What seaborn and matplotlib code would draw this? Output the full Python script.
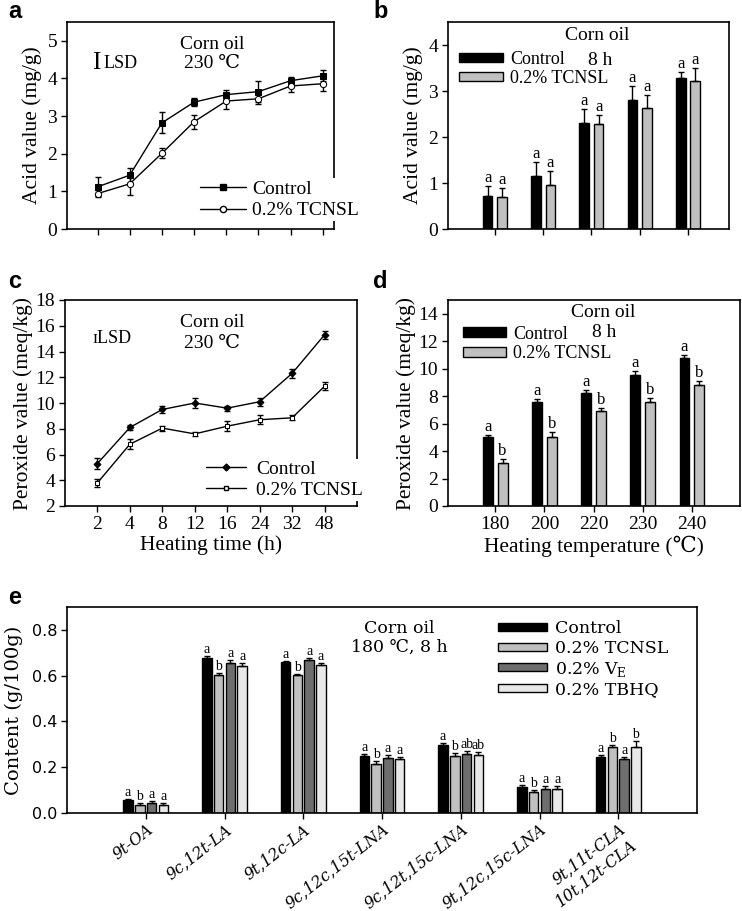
import numpy as np
import pandas as pd
import matplotlib
matplotlib.use("Agg")
import matplotlib.pyplot as plt
import seaborn as sns
from matplotlib.lines import Line2D
from matplotlib.patches import Patch

# ---------------- data ----------------
groups2 = ["Control", "0.2% TCNSL"]
times = ["2", "4", "8", "12", "16", "24", "32", "48"]

a_ctrl = [1.12, 1.43, 2.82, 3.37, 3.57, 3.65, 3.94, 4.07]
a_ctrl_err = [0.25, 0.2, 0.28, 0.1, 0.12, 0.28, 0.1, 0.15]
a_tcnsl = [0.94, 1.2, 2.01, 2.85, 3.4, 3.46, 3.8, 3.86]
a_tcnsl_err = [0.1, 0.3, 0.13, 0.18, 0.2, 0.15, 0.15, 0.2]

b_temps = ["180", "200", "220", "230", "240"]
b_ctrl = [0.72, 1.16, 2.31, 2.81, 3.28]
b_ctrl_err = [0.22, 0.3, 0.3, 0.29, 0.14]
b_tcnsl = [0.69, 0.95, 2.28, 2.64, 3.22]
b_tcnsl_err = [0.21, 0.31, 0.2, 0.27, 0.27]
b_letters_ctrl = ["a"] * 5
b_letters_tcnsl = ["a"] * 5

c_ctrl = [5.3, 8.1, 9.5, 10.0, 9.6, 10.1, 12.3, 15.3]
c_ctrl_err = [0.4, 0.2, 0.3, 0.4, 0.2, 0.3, 0.35, 0.3]
c_tcnsl = [3.8, 6.8, 8.05, 7.6, 8.2, 8.7, 8.85, 11.3]
c_tcnsl_err = [0.3, 0.4, 0.2, 0.15, 0.4, 0.35, 0.2, 0.3]

d_temps = ["180", "200", "220", "230", "240"]
d_ctrl = [5.0, 7.6, 8.2, 9.55, 10.75]
d_ctrl_err = [0.15, 0.2, 0.25, 0.25, 0.25]
d_tcnsl = [3.1, 5.0, 6.9, 7.6, 8.8]
d_tcnsl_err = [0.3, 0.4, 0.25, 0.25, 0.3]
d_letters_ctrl = ["a"] * 5
d_letters_tcnsl = ["b"] * 5

e_cats = ["9t-OA", "9c,12t-LA", "9t,12c-LA", "9c,12c,15t-LNA",
          "9c,12t,15c-LNA", "9t,12c,15c-LNA", "9t,11t-CLA\n10t,12t-CLA"]
e_groups = ["Control", "0.2% TCNSL", "0.2% VE", "0.2% TBHQ"]
e_legend_labels = ["Control", "0.2% TCNSL", "0.2% V$_\\mathregular{E}$", "0.2% TBHQ"]
e_ctrl = [0.055, 0.678, 0.66, 0.248, 0.298, 0.113, 0.245]
e_tcnsl = [0.034, 0.601, 0.603, 0.212, 0.248, 0.091, 0.288]
e_ve = [0.044, 0.656, 0.668, 0.240, 0.259, 0.106, 0.236]
e_tbhq = [0.036, 0.641, 0.646, 0.236, 0.254, 0.106, 0.290]
e_ctrl_err = [0.006, 0.006, 0.006, 0.01, 0.006, 0.008, 0.008]
e_tcnsl_err = [0.008, 0.012, 0.006, 0.016, 0.016, 0.01, 0.01]
e_ve_err = [0.01, 0.014, 0.01, 0.014, 0.014, 0.012, 0.008]
e_tbhq_err = [0.008, 0.014, 0.01, 0.01, 0.014, 0.012, 0.025]
e_letters = [
    ["a", "a", "a", "a", "a", "a", "a"],
    ["b", "b", "b", "b", "b", "b", "b"],
    ["a", "a", "a", "a", "ab", "a", "a"],
    ["a", "a", "a", "a", "ab", "a", "b"],
]

# ---------------- style ----------------
sns.set_theme(style="ticks")
SERIF = ["Liberation Serif", "DejaVu Serif", "DejaVu Sans"]
plt.rcParams["font.family"] = SERIF
plt.rcParams["mathtext.fontset"] = "custom"
plt.rcParams["mathtext.rm"] = "DejaVu Serif"
plt.rcParams["axes.edgecolor"] = "black"
plt.rcParams["axes.linewidth"] = 1.2
plt.rcParams["xtick.color"] = "black"
plt.rcParams["ytick.color"] = "black"
plt.rcParams["text.color"] = "black"
plt.rcParams["axes.labelcolor"] = "black"

W, H = 742, 911
fig = plt.figure(figsize=(W / 100, H / 100), dpi=100)

TICK_FS = 14
LABEL_FS = 15.5
ANN_FS = 14


def add_ax(l, r, t, b):
    return fig.add_axes([l / W, 1 - b / H, (r - l) / W, (b - t) / H])


def frame(ax, fs=TICK_FS):
    for s in ax.spines.values():
        s.set_visible(True)
        s.set_color("black")
        s.set_linewidth(1.2)
    ax.tick_params(direction="out", length=4, width=1, labelsize=fs,
                   top=False, right=False, pad=3)
    ax.set_facecolor("white")


def line_panel(ax, ctrl, ctrl_err, tc, tc_err, mk_ctrl, mk_tc, ms):
    df = pd.DataFrame({
        "time": times * 2,
        "value": ctrl + tc,
        "group": [groups2[0]] * len(times) + [groups2[1]] * len(times),
    })
    sns.pointplot(data=df, x="time", y="value", hue="group", order=times,
                  hue_order=groups2, palette=["black", "black"],
                  markers=[mk_ctrl, mk_tc], linestyles=["-", "-"],
                  errorbar=None, legend=False, ax=ax,
                  markersize=ms, linewidth=1.0)
    lines = [l for l in ax.lines]
    lines[1].set_markerfacecolor("white")
    lines[1].set_markeredgecolor("black")
    lines[0].set_zorder(3)
    lines[1].set_zorder(3)
    for ln, err in zip(lines[:2], [ctrl_err, tc_err]):
        ax.errorbar(ln.get_xdata(), ln.get_ydata(), yerr=err, fmt="none",
                    ecolor="black", elinewidth=1, capsize=2.5, capthick=1,
                    zorder=2)
    return lines


def bar_panel(ax, cats, ctrl, ctrl_err, tc, tc_err, let_c, let_t):
    df = pd.DataFrame({
        "cat": cats * 2,
        "value": ctrl + tc,
        "group": [groups2[0]] * len(cats) + [groups2[1]] * len(cats),
    })
    sns.barplot(data=df, x="cat", y="value", hue="group", order=cats,
                hue_order=groups2, palette=["black", "#c0c0c0"],
                edgecolor="black", linewidth=1.0, errorbar=None,
                width=0.6, gap=0.33, legend=False, ax=ax, saturation=1)
    for cont, errs, lets in zip(ax.containers, [ctrl_err, tc_err], [let_c, let_t]):
        xs = [p.get_x() + p.get_width() / 2 for p in cont]
        hs = [p.get_height() for p in cont]
        ax.errorbar(xs, hs, yerr=[[0] * len(errs), errs], fmt="none",
                    ecolor="black", elinewidth=1, capsize=2.5, capthick=1)
        for x, h, e, l in zip(xs, hs, errs, lets):
            ax.text(x, h + e, l, ha="center", va="bottom", fontsize=12)


# ---------------- panel a ----------------
ax = add_ax(67, 334, 22, 229)
frame(ax)
line_panel(ax, a_ctrl, a_ctrl_err, a_tcnsl, a_tcnsl_err, "s", "o", 4.5)
ax.set_ylim(0, 5.5)
ax.set_yticks([0, 1, 2, 3, 4, 5])
ax.set_xlim(-0.95, 7.35)
ax.tick_params(labelbottom=False)
ax.set_xlabel("")
ax.set_ylabel("Acid value (mg/g)", fontsize=LABEL_FS, labelpad=4)
ax.text(0.543, 0.89, "Corn oil", transform=ax.transAxes, ha="center", va="center", fontsize=ANN_FS)
ax.text(0.543, 0.80, "230 ℃", transform=ax.transAxes, ha="center", va="center", fontsize=ANN_FS)
ax.text(0.11, 0.80, "I", transform=ax.transAxes, ha="center", va="center", fontsize=18)
ax.text(0.135, 0.80, "LSD", transform=ax.transAxes, ha="left", va="center", fontsize=13)
h_a = [Line2D([], [], color="black", marker="s", markersize=4.5, lw=1),
       Line2D([], [], color="black", marker="o", markersize=4.5, lw=1,
              markerfacecolor="white")]
leg = ax.legend(h_a, groups2, loc="upper left", bbox_to_anchor=(0.49, 0.245),
                frameon=True, framealpha=1, edgecolor="none", fontsize=ANN_FS,
                handlelength=2.4, handletextpad=0.3, borderpad=0.1,
                borderaxespad=0, labelspacing=0.2)
leg.get_frame().set_linewidth(0)

# ---------------- panel b ----------------
ax = add_ax(448, 729, 22, 229)
frame(ax)
bar_panel(ax, b_temps, b_ctrl, b_ctrl_err, b_tcnsl, b_tcnsl_err,
          b_letters_ctrl, b_letters_tcnsl)
ax.set_ylim(0, 4.5)
ax.set_yticks([0, 1, 2, 3, 4])
ax.set_xlim(-0.97, 4.85)
ax.tick_params(labelbottom=False)
ax.set_xlabel("")
ax.set_ylabel("Acid value (mg/g)", fontsize=LABEL_FS, labelpad=4)
ax.text(0.53, 0.935, "Corn oil", transform=ax.transAxes, ha="center", va="center", fontsize=ANN_FS)
ax.text(0.54, 0.815, "8 h", transform=ax.transAxes, ha="center", va="center", fontsize=ANN_FS)
h_b = [Patch(facecolor="black", edgecolor="black"),
       Patch(facecolor="#c0c0c0", edgecolor="black")]
ax.legend(h_b, groups2, loc="upper left", bbox_to_anchor=(0.04, 0.86),
          frameon=False, fontsize=13, handlelength=2.4, handleheight=0.45,
          handletextpad=0.4, borderpad=0, borderaxespad=0, labelspacing=0.1)

# ---------------- panel c ----------------
ax = add_ax(65, 357, 300, 506)
frame(ax)
line_panel(ax, c_ctrl, c_ctrl_err, c_tcnsl, c_tcnsl_err, "D", "s", 3.5)
ax.set_ylim(2, 18)
ax.set_yticks(range(2, 19, 2))
ax.set_xlim(-1, 8)
ax.set_xticks(range(len(times)))
ax.set_xticklabels(times)
ax.set_xlabel("Heating time (h)", fontsize=LABEL_FS, labelpad=2)
ax.set_ylabel("Peroxide value (meq/kg)", fontsize=LABEL_FS, labelpad=2)
ax.text(0.503, 0.893, "Corn oil", transform=ax.transAxes, ha="center", va="center", fontsize=ANN_FS)
ax.text(0.503, 0.79, "230 ℃", transform=ax.transAxes, ha="center", va="center", fontsize=ANN_FS)
ax.text(0.095, 0.815, "ɪLSD", transform=ax.transAxes, ha="left", va="center", fontsize=13)
h_c = [Line2D([], [], color="black", marker="D", markersize=3.5, lw=1),
       Line2D([], [], color="black", marker="s", markersize=3.5, lw=1,
              markerfacecolor="white")]
leg = ax.legend(h_c, groups2, loc="upper left", bbox_to_anchor=(0.475, 0.23),
                frameon=True, framealpha=1, edgecolor="none", fontsize=ANN_FS,
                handlelength=2.1, handletextpad=0.5, borderpad=0.1,
                borderaxespad=0, labelspacing=0.15)
leg.get_frame().set_linewidth(0)

# ---------------- panel d ----------------
ax = add_ax(448, 740, 300, 506)
frame(ax)
bar_panel(ax, d_temps, d_ctrl, d_ctrl_err, d_tcnsl, d_tcnsl_err,
          d_letters_ctrl, d_letters_tcnsl)
ax.set_ylim(0, 15)
ax.set_yticks(range(0, 15, 2))
ax.set_xlim(-0.96, 4.98)
ax.set_xlabel("Heating temperature (℃)", fontsize=LABEL_FS, labelpad=2)
ax.set_ylabel("Peroxide value (meq/kg)", fontsize=LABEL_FS, labelpad=2)
ax.text(0.53, 0.94, "Corn oil", transform=ax.transAxes, ha="center", va="center", fontsize=ANN_FS)
ax.text(0.535, 0.84, "8 h", transform=ax.transAxes, ha="center", va="center", fontsize=ANN_FS)
ax.legend(h_b, groups2, loc="upper left", bbox_to_anchor=(0.05, 0.875),
          frameon=False, fontsize=13, handlelength=2.4, handleheight=0.45,
          handletextpad=0.4, borderpad=0, borderaxespad=0, labelspacing=0.15)

# ---------------- panel e ----------------
ax = add_ax(67, 697, 607, 813)
frame(ax, fs=11.5)
e_vals = [e_ctrl, e_tcnsl, e_ve, e_tbhq]
e_errs = [e_ctrl_err, e_tcnsl_err, e_ve_err, e_tbhq_err]
e_colors = ["black", "#c0c0c0", "#6e6e6e", "#e8e8e8"]
dfe = pd.DataFrame({
    "cat": e_cats * 4,
    "value": sum(e_vals, []),
    "group": sum([[g] * len(e_cats) for g in e_groups], []),
})
sns.barplot(data=dfe, x="cat", y="value", hue="group", order=e_cats,
            hue_order=e_groups, palette=e_colors, edgecolor="black",
            linewidth=1.0, errorbar=None, width=0.6, gap=0.2, legend=False,
            ax=ax, saturation=1)
for cont, errs, lets in zip(ax.containers, e_errs, e_letters):
    xs = [p.get_x() + p.get_width() / 2 for p in cont]
    hs = [p.get_height() for p in cont]
    ax.errorbar(xs, hs, yerr=[[0] * len(errs), errs], fmt="none",
                ecolor="black", elinewidth=1, capsize=2, capthick=1)
    for x, h, e, l in zip(xs, hs, errs, lets):
        ax.text(x, h + e, l, ha="center", va="bottom", fontsize=10)
ax.set_ylim(0, 0.9)
ax.set_yticks([0.0, 0.2, 0.4, 0.6, 0.8])
ax.set_yticklabels(["0.0", "0.2", "0.4", "0.6", "0.8"], family=["DejaVu Sans"])
ax.set_xlim(-1, 7)
ax.set_xlabel("")
ax.set_xticks(range(len(e_cats)))
ax.set_xticklabels(e_cats, rotation=38, ha="right", rotation_mode="anchor",
                   fontsize=11.5, style="italic", family=["DejaVu Serif"])
ax.tick_params(axis="x", pad=2)
ax.set_ylabel("Content (g/100g)", fontsize=14, family=["DejaVu Serif"], labelpad=6)
ax.text(0.528, 0.898, "Corn oil", transform=ax.transAxes, ha="center", va="center",
        fontsize=12.5, family=["DejaVu Serif"])
ax.text(0.528, 0.806, "180 ℃, 8 h", transform=ax.transAxes, ha="center", va="center",
        fontsize=12.5, family=["DejaVu Serif"])
h_e = [Patch(facecolor=c, edgecolor="black") for c in e_colors]
ax.legend(h_e, e_legend_labels, loc="upper left", bbox_to_anchor=(0.684, 0.935),
          frameon=False, prop={"family": "DejaVu Serif", "size": 12.5},
          handlelength=2.8, handleheight=0.35, handletextpad=0.5, borderpad=0,
          borderaxespad=0, labelspacing=0.15)

# ---------------- panel letters ----------------
for lab, x, y in [("a", 8, 12), ("b", 373, 12), ("c", 8, 281), ("d", 373, 281), ("e", 8, 598)]:
    fig.text(x / W, 1 - y / H, lab, fontsize=17, fontweight="bold",
             family=["Liberation Sans", "DejaVu Sans"], ha="left", va="center")

fig.savefig("out.png", dpi=100, facecolor="white")
